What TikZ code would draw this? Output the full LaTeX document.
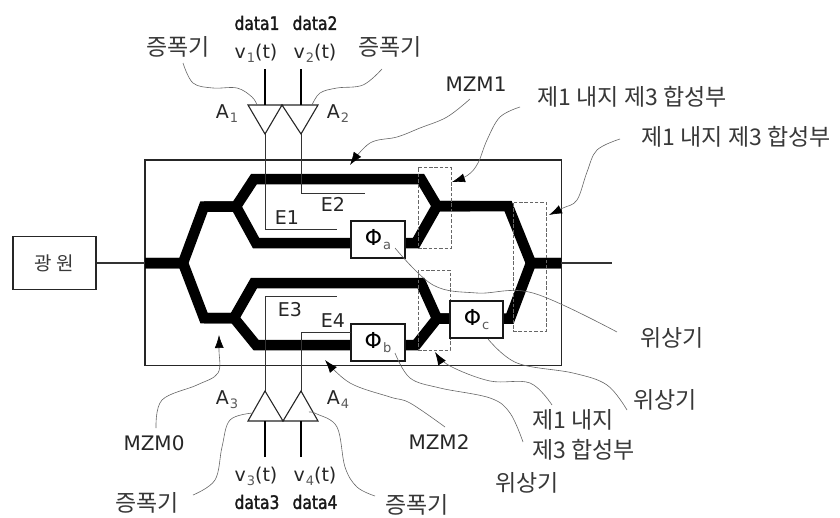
\documentclass[tikz,border=0pt]{standalone}
\usepackage{fontspec}
\setmainfont{DejaVu Sans}
\newfontfamily\krfont[WordSpace=3.2]{Noto Sans CJK KR}
\newfontfamily\krsrc{Noto Sans CJK KR}
\newfontfamily\datfont[FakeStretch=0.84,FakeBold=1.8]{DejaVu Sans}
\usetikzlibrary{arrows.meta}
\definecolor{txt}{gray}{0.22}
\tikzset{
  wg/.style={line width=10.5pt,black,line join=miter,miter limit=8},
  frame/.style={draw=black!85,line width=1.3pt,fill=white},
  tri/.style={draw=black!85,line width=1.1pt,fill=white,line join=miter},
  sig/.style={black!80,line width=0.9pt},
  stem/.style={black,line width=1.5pt},
  dbox/.style={draw=black!60,line width=0.7pt,dash pattern=on 3.5pt off 1.8pt},
  lead/.style={black!60,line width=0.6pt},
  arr/.style={black!60,line width=0.6pt,-{Latex[black,length=13pt,width=9pt]}},
  kr/.style={text=txt,font=\krfont\fontsize{23}{25}\selectfont,inner sep=0pt},
  lat/.style={text=black!85,font=\fontsize{19}{21}\selectfont,inner sep=0pt},
  mzm/.style={text=black!85,font=\fontsize{20}{22}\selectfont,inner sep=0pt},
  dat/.style={text=black!90,font=\datfont\fontsize{18.5}{20}\selectfont,inner sep=0pt},
  phib/.style={draw=black!90,line width=1.3pt,fill=white,minimum width=54pt,minimum height=37pt,inner sep=0pt,font=\fontsize{22}{24}\selectfont},
  x=1pt,y=-1pt
}
\newcommand{\sbs}[1]{\raisebox{-4pt}{\kern1pt\textcolor{black!65}{\fontsize{13}{13}\selectfont #1}}}
\begin{document}
\begin{tikzpicture}
\useasboundingbox (0,0) rectangle (840,517);
% main frame
\node[frame,minimum width=416.5pt,minimum height=205.5pt,inner sep=0pt] (main) at (353.3,262.8) {};
\coordinate (in) at (145,263);
\coordinate (out) at (561,263);
% phase shifters (positions only for the waveguide)
\node[phib] (pa) at (378,239.5) {Φ\sbs{a}};
\node[phib] (pb) at (378,342.5) {Φ\sbs{b}};
\node[phib,minimum width=53pt] (pc) at (476.5,319.5) {Φ\sbs{c}};
\coordinate (paw) at (352,243); \coordinate (pae) at (405,243);
\coordinate (pbw) at (352,345); \coordinate (pbe) at (405,345);
\coordinate (pcw) at (450,318.5); \coordinate (pce) at (503,318.5);
% waveguides
\draw[wg] (in) -- (183,263) -- (204,206.5) -- (236,206.5) -- (254,179) -- (421,179) -- (437,206) -- (508,206) -- (531,263) -- (out);
\draw[wg] (204,206.5) -- (236,206.5) -- (256,243) -- (paw);
\draw[wg] (pae) -- (416,243) -- (437,206) -- (470,206);
\draw[wg] (in) -- (183,263) -- (204,318) -- (234,318) -- (254,283) -- (421,283) -- (437,318.5) -- (pcw);
\draw[wg] (204,318) -- (234,318) -- (256,345) -- (pbw);
\draw[wg] (pbe) -- (416,345) -- (437,318.5) -- (pcw);
\draw[wg] (pce) -- (510,318.5) -- (531,263) -- (out);
% dashed boxes
\node[dbox,minimum width=33pt,minimum height=81pt,inner sep=0pt] (d1) at (434.5,207.5) {};
\node[dbox,minimum width=32pt,minimum height=80pt,inner sep=0pt] (d2) at (434,310) {};
\node[dbox,minimum width=33pt,minimum height=129pt,inner sep=0pt] (d3) at (529.5,266.5) {};
% boxes over waveguides
\node[phib] at (pa) {Φ\sbs{a}};
\node[phib] at (pb) {Φ\sbs{b}};
\node[phib,minimum width=53pt] at (pc) {Φ\sbs{c}};
% source
\node[frame,minimum width=83pt,minimum height=53pt,inner sep=0pt] (src) at (54.5,263) {\krsrc\fontsize{19}{21}\selectfont\textcolor{txt}{광 원}};
\draw[sig,line width=1.2pt] (src.east) -- (in);
\coordinate (outend) at (612,263);
\draw[sig,line width=1.4pt] (out) -- (outend);
% amplifiers
\coordinate (a1t) at (265,105); \coordinate (a1b) at (265,134);
\coordinate (a2t) at (301,105); \coordinate (a2b) at (301,134);
\coordinate (a3t) at (265,391); \coordinate (a3b) at (265,421);
\coordinate (a4t) at (301,391); \coordinate (a4b) at (301,421);
\draw[tri] (248,105) -- (282,105) -- (a1b) -- cycle;
\draw[tri] (282,105) -- (318,105) -- (a2b) -- cycle;
\draw[tri] (248,421) -- (283,421) -- (a3t) -- cycle;
\draw[tri] (283,421) -- (318,421) -- (a4t) -- cycle;
\coordinate (s1) at (265,69); \coordinate (s2) at (301,69);
\coordinate (s3) at (265,457); \coordinate (s4) at (301,457);
\draw[stem] (s1) -- (a1t); \draw[stem] (s2) -- (a2t);
\draw[stem] (s3) -- (a3b); \draw[stem] (s4) -- (a4b);
% electrodes
\coordinate (e1) at (337,229); \coordinate (e2) at (365,193);
\coordinate (e3) at (337,296); \coordinate (e4) at (351,332);
\draw[sig] (a1b) |- (e1);
\draw[sig] (a2b) |- (e2);
\draw[sig] (a3t) |- (e3);
\draw[sig] (a4t) |- (e4);
\node[lat] (E1) at (287,218) {E1};
\node[lat] (E2) at (333,204) {E2};
\node[lat] (E3) at (290,309.5) {E3};
\node[lat] (E4) at (333,321) {E4};
% labels
\node[dat] (d1t) at (257,23) {data1};
\node[dat] (d2t) at (315,23) {data2};
\node[lat] (v1) at (256,53) {v\sbs{1}(t)};
\node[lat] (v2) at (315,53) {v\sbs{2}(t)};
\node[dat] (d3t) at (257,502) {data3};
\node[dat] (d4t) at (315,502) {data4};
\node[lat] (v3) at (256,476) {v\sbs{3}(t)};
\node[lat] (v4) at (315,476) {v\sbs{4}(t)};
\node[lat] (A1) at (227,114) {A\sbs{1}};
\node[lat] (A2) at (338,114) {A\sbs{2}};
\node[lat] (A3) at (227,400) {A\sbs{3}};
\node[lat] (A4) at (338,400) {A\sbs{4}};
\node[kr] (k1) at (178,47) {증폭기};
\node[kr] (k2) at (390,47) {증폭기};
\node[kr] (k3) at (147,503) {증폭기};
\node[kr] (k4) at (417,505) {증폭기};
\node[mzm] (m1) at (476,84) {MZM1};
\node[mzm] (m0) at (154,443) {MZM0};
\node[mzm] (m2) at (439,442) {MZM2};
\node[kr] (h1) at (632,97) {제1 내지 제3 합성부};
\node[kr] (h2) at (736,137) {제1 내지 제3 합성부};
\node[kr,anchor=west] (h3) at (532,420) {제1 내지};
\node[kr,anchor=west] (h4) at (532,450) {제3 합성부};
\node[kr] (w1) at (672,338) {위상기};
\node[kr] (w2) at (665,400) {위상기};
\node[kr] (w3) at (527,483) {위상기};
% leader ends
\coordinate (l1) at (183,63);  \coordinate (l1e) at (257,105);
\coordinate (l2) at (382,69);  \coordinate (l2e) at (312,105);
\coordinate (l3) at (193,495); \coordinate (l3e) at (253,413);
\coordinate (l4) at (375,496); \coordinate (l4e) at (309,412);
\coordinate (l5) at (156,428); \coordinate (l5e) at (219,335);
\coordinate (l6) at (445,427); \coordinate (l6e) at (325,360);
\coordinate (l7) at (470,99);  \coordinate (l7e) at (350,165);
\coordinate (l8) at (520,107); \coordinate (l8e) at (452,182);
\coordinate (l9) at (620,139); \coordinate (l9e) at (549,215);
\coordinate (l10) at (552,405);\coordinate (l10e) at (435,352);
\coordinate (l11) at (617,332);\coordinate (l11e) at (395,248);
\coordinate (l12) at (627,410);\coordinate (l12e) at (488,339);
\coordinate (l13) at (523,442);\coordinate (l13e) at (395,353);
% leaders
\draw[lead] plot[smooth,tension=.6] coordinates {(l1) (193,83) (213,88) (237,88) (252,97) (l1e)};
\draw[lead] plot[smooth,tension=.6] coordinates {(l2) (363,85) (337,88) (320,93) (l2e)};
\draw[lead] plot[smooth,tension=.6] coordinates {(l3) (215,480) (222,447) (230,420) (l3e)};
\draw[lead] plot[smooth,tension=.6] coordinates {(l4) (357,487) (345,467) (337,427) (317,414) (l4e)};
\draw[arr] plot[smooth,tension=.6] coordinates {(l5) (162,400) (197,385) (218,373) (219,350) (l5e)};
\draw[arr] plot[smooth,tension=.6] coordinates {(l6) (410,403) (390,397) (350,383) (l6e)};
\draw[arr] plot[smooth,tension=.6] coordinates {(l7) (447,117) (420,128) (397,137) (370,143) (l7e)};
\draw[arr] plot[smooth,tension=.6] coordinates {(l8) (500,117) (487,140) (478,163) (468,175) (l8e)};
\draw[arr] plot[smooth,tension=.6] coordinates {(l9) (597,150) (587,172) (577,200) (563,208) (l9e)};
\draw[arr] plot[smooth,tension=.6] coordinates {(l10) (530,383) (490,381) (450,366) (l10e)};
\draw[lead] plot[smooth,tension=.6] coordinates {(l11e) (433,285) (477,293) (533,293) (l11)};
\draw[lead] plot[smooth,tension=.6] coordinates {(l12e) (517,363) (573,373) (607,385) (l12)};
\draw[lead] plot[smooth,tension=.6] coordinates {(l13e) (410,378) (440,388) (490,398) (510,413) (l13)};
\end{tikzpicture}
\end{document}
